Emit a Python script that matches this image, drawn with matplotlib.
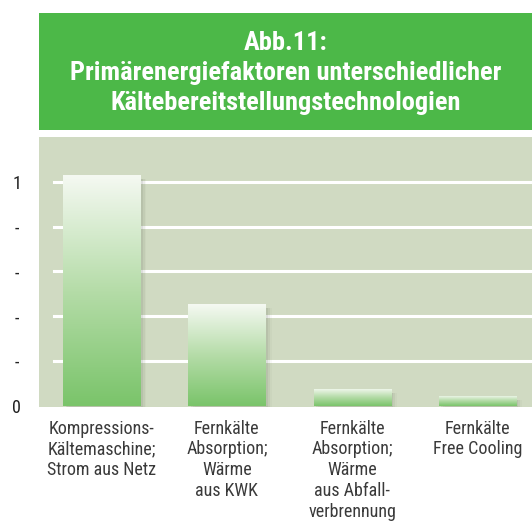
import numpy as np
import matplotlib
matplotlib.use("Agg")
import matplotlib.pyplot as plt
from matplotlib.patches import Rectangle
from matplotlib.colors import LinearSegmentedColormap

plt.rcParams["font.family"] = ["Roboto Condensed", "DejaVu Sans"]

categories = [
    "Kompressions-\nKältemaschine;\nStrom aus Netz",
    "Fernkälte\nAbsorption;\nWärme\naus KWK",
    "Fernkälte\nAbsorption;\nWärme\naus Abfall-\nverbrennung",
    "Fernkälte\nFree Cooling",
]
values = [1.03, 0.455, 0.076, 0.045]
yticks = [0, 0.2, 0.4, 0.6, 0.8, 1.0]
ytick_labels = ["0", "-", "-", "-", "-", "1"]
title = "Abb.11:\nPrimärenergiefaktoren unterschiedlicher\nKältebereitstellungstechnologien"

W, H = 532, 523
fig = plt.figure(figsize=(W / 100, H / 100), dpi=100)

# title box
fig.patches.append(Rectangle((39 / W, 1 - 130 / H), (W - 39) / W, 117 / H,
                             transform=fig.transFigure, facecolor="#4cb848",
                             edgecolor="none", zorder=0))
fig.text((39 + W) / 2 / W, 1 - 73 / H, title, ha="center", va="center",
         color="white", fontsize=19, fontweight="bold", linespacing=1.3)

ax = fig.add_axes([39 / W, 1 - 407 / H, (W - 39) / W, 270 / H])
ax.set_facecolor("#d0dac2")
for s in ax.spines.values():
    s.set_visible(False)

x = np.arange(len(values))
width = 0.616

for y in yticks[1:]:
    ax.axhline(y, xmin=0.03, xmax=1, color="white", lw=2.2, zorder=1)

cmap = LinearSegmentedColormap.from_list("g", ["#7ac46a", "#b5dca8", "#f5f9f2"])
grad = np.linspace(0, 1, 256).reshape(-1, 1)
for xi, v in zip(x, values):
    # soft shadow
    for k, a in enumerate([0.10, 0.07, 0.04]):
        ax.add_patch(Rectangle((xi - width / 2 + 0.02 + 0.015 * k, -0.005),
                               width, v - 0.012, facecolor="#556050",
                               edgecolor="none", alpha=a, zorder=2))
    bar = ax.bar(xi, v, width=width, facecolor="none", edgecolor="none", zorder=3)[0]
    im = ax.imshow(grad, cmap=cmap, aspect="auto", origin="lower",
                   extent=(xi - width / 2, xi + width / 2, 0, v), zorder=3)
    im.set_clip_path(bar)

ax.set_xlim(-0.5, 3.436)
ax.set_ylim(-0.005, 1.2)

ax.set_yticks(yticks)
ax.set_yticklabels(ytick_labels, fontsize=13, color="#222222")
ax.set_xticks(x)
ax.set_xticklabels(categories, fontsize=13, color="#3a3a3a", linespacing=1.2,
                   va="top")
ax.tick_params(axis="both", length=0)
ax.tick_params(axis="y", pad=16)
ax.tick_params(axis="x", pad=9)
for lab in ax.get_yticklabels():
    lab.set_horizontalalignment("center")

fig.savefig("out.png", dpi=100, facecolor="white")
